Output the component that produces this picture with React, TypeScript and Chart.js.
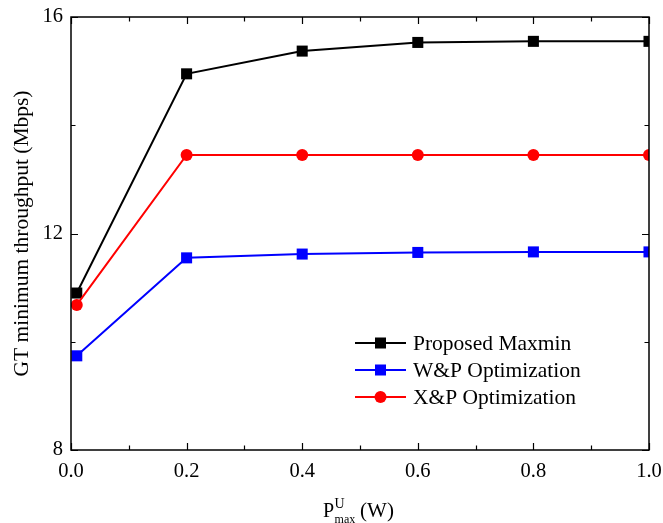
import React, { useEffect, useRef } from "react";
import { Chart, registerables } from "chart.js";

Chart.register(...registerables);

const xValues = [0.01, 0.2, 0.4, 0.6, 0.8, 1.0];
const proposedMaxmin = [10.9, 14.95, 15.37, 15.53, 15.55, 15.55];
const wpOptimization = [9.74, 11.55, 11.62, 11.65, 11.66, 11.66];
const xpOptimization = [10.68, 13.45, 13.45, 13.45, 13.45, 13.45];
const xMajorTicks = [0, 0.2, 0.4, 0.6, 0.8, 1.0];
const xMinorTicks = [0.1, 0.3, 0.5, 0.7, 0.9];
const yMajorTicks = [8, 12, 16];
const yMinorTicks = [10, 14];
const legendLabels = ["Proposed Maxmin", "W&P Optimization", "X&P Optimization"];
const yTitle = "GT minimum throughput (Mbps)";

const FONT = "'Liberation Serif', 'Times New Roman', serif";

const decorPlugin = {
  id: "decor",
  afterDraw(chart: any) {
    const { ctx, chartArea } = chart;
    const { left, right, top, bottom } = chartArea;
    const xs = chart.scales.x;
    const ys = chart.scales.y;
    ctx.save();
    // frame
    ctx.strokeStyle = "#000";
    ctx.lineWidth = 1.5;
    ctx.strokeRect(left, top, right - left, bottom - top);
    // ticks
    ctx.lineWidth = 1.2;
    const drawX = (v: number, len: number) => {
      const px = Math.round(xs.getPixelForValue(v)) + 0.5;
      ctx.beginPath();
      ctx.moveTo(px, bottom);
      ctx.lineTo(px, bottom - len);
      ctx.moveTo(px, top);
      ctx.lineTo(px, top + len);
      ctx.stroke();
    };
    const drawY = (v: number, len: number) => {
      const py = Math.round(ys.getPixelForValue(v)) + 0.5;
      ctx.beginPath();
      ctx.moveTo(left, py);
      ctx.lineTo(left + len, py);
      ctx.moveTo(right, py);
      ctx.lineTo(right - len, py);
      ctx.stroke();
    };
    xMajorTicks.forEach((v) => drawX(v, 7));
    xMinorTicks.forEach((v) => drawX(v, 4.5));
    yMajorTicks.forEach((v) => drawY(v, 7));
    yMinorTicks.forEach((v) => drawY(v, 4.5));

    // legend
    const order = [2, 1, 0]; // dataset indices for legend rows
    const lx1 = left + 284;
    const lx2 = left + 335;
    const ltx = left + 342;
    const ly0 = top + 326;
    const lstep = 27;
    order.forEach((di, row) => {
      const ds = chart.data.datasets[di];
      const y = ly0 + row * lstep;
      ctx.strokeStyle = ds.borderColor;
      ctx.lineWidth = 2;
      ctx.beginPath();
      ctx.moveTo(lx1, y);
      ctx.lineTo(lx2, y);
      ctx.stroke();
      ctx.fillStyle = ds.backgroundColor;
      const cx = (lx1 + lx2) / 2;
      if (ds.pointStyle === "circle") {
        ctx.beginPath();
        ctx.arc(cx, y, 6, 0, Math.PI * 2);
        ctx.fill();
      } else {
        ctx.fillRect(cx - 5.5, y - 5.5, 11, 11);
      }
      ctx.fillStyle = "#000";
      ctx.font = `21.5px ${FONT}`;
      ctx.textAlign = "left";
      ctx.textBaseline = "middle";
      ctx.fillText(legendLabels[row], ltx, y + 1);
    });

    // x title: P^U_max (W)
    ctx.fillStyle = "#000";
    ctx.textBaseline = "alphabetic";
    ctx.textAlign = "left";
    const x0 = (left + right) / 2 - 37;
    const base = 517;
    ctx.font = `20px ${FONT}`;
    const wP = ctx.measureText("P").width;
    ctx.fillText("P", x0, base);
    ctx.font = `14px ${FONT}`;
    ctx.fillText("U", x0 + wP + 0.5, base - 9);
    ctx.font = `12px ${FONT}`;
    ctx.fillText("max", x0 + wP + 0.5, base + 5.5);
    ctx.font = `21px ${FONT}`;
    ctx.fillText("(W)", x0 + wP + 26, base);

    // y title
    ctx.save();
    ctx.translate(28, (top + bottom) / 2);
    ctx.rotate(-Math.PI / 2);
    ctx.textAlign = "center";
    ctx.textBaseline = "alphabetic";
    ctx.font = `21.5px ${FONT}`;
    ctx.fillText(yTitle, 0, 0);
    ctx.restore();

    ctx.restore();
  },
};

export default function App() {
  const ref = useRef<HTMLCanvasElement | null>(null);
  useEffect(() => {
    if (!ref.current) return;
    const mk = (arr: number[]) => xValues.map((x, i) => ({ x, y: arr[i] }));
    const chart = new Chart(ref.current, {
      type: "line",
      data: {
        datasets: [
          {
            label: legendLabels[2],
            data: mk(xpOptimization),
            borderColor: "#ff0000",
            backgroundColor: "#ff0000",
            pointStyle: "circle",
            pointRadius: 6,
            pointHoverRadius: 6,
            borderWidth: 2,
            pointBorderWidth: 0,
          },
          {
            label: legendLabels[1],
            data: mk(wpOptimization),
            borderColor: "#0000ff",
            backgroundColor: "#0000ff",
            pointStyle: "rect",
            pointRadius: 7.8,
            pointHoverRadius: 7.8,
            borderWidth: 2,
            pointBorderWidth: 0,
          },
          {
            label: legendLabels[0],
            data: mk(proposedMaxmin),
            borderColor: "#000000",
            backgroundColor: "#000000",
            pointStyle: "rect",
            pointRadius: 7.8,
            pointHoverRadius: 7.8,
            borderWidth: 2,
            pointBorderWidth: 0,
          },
        ],
      },
      options: {
        responsive: false,
        animation: false,
        layout: { padding: { left: 0, right: 14, top: 17, bottom: 0 } },
        plugins: { legend: { display: false }, tooltip: { enabled: false } },
        scales: {
          x: {
            type: "linear",
            min: 0,
            max: 1,
            afterBuildTicks: (s: any) => {
              s.ticks = xMajorTicks.map((v) => ({ value: v }));
            },
            afterFit: (s: any) => {
              s.height = 73;
              s.paddingLeft = 0;
              s.paddingRight = 0;
            },
            grid: { display: false, drawTicks: false },
            border: { display: false },
            ticks: {
              color: "#000",
              font: { family: FONT, size: 20.5 },
              padding: 9,
              maxRotation: 0,
              callback: (v: any) => Number(v).toFixed(1),
            },
          },
          y: {
            type: "linear",
            min: 8,
            max: 16,
            afterBuildTicks: (s: any) => {
              s.ticks = yMajorTicks.map((v) => ({ value: v }));
            },
            afterFit: (s: any) => {
              s.width = 71;
              s.paddingTop = 0;
              s.paddingBottom = 0;
            },
            grid: { display: false, drawTicks: false },
            border: { display: false },
            ticks: {
              color: "#000",
              font: { family: FONT, size: 20.5 },
              padding: 8,
              callback: (v: any) => String(v),
            },
          },
        },
      },
      plugins: [decorPlugin],
    } as any);
    return () => chart.destroy();
  }, []);
  return (
    <div style={{ position: "fixed", left: 0, top: 0, width: 663, height: 523, background: "#fff" }}>
      <canvas ref={ref} width={663} height={523} style={{ display: "block" }} />
    </div>
  );
}
